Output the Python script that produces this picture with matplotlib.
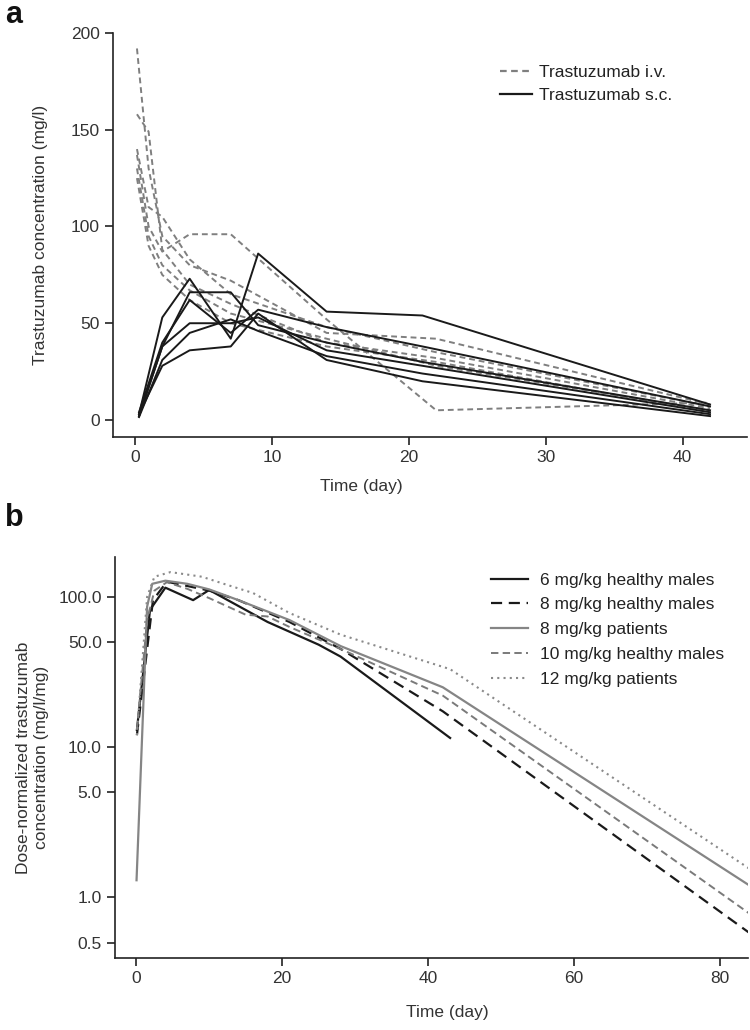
import matplotlib
matplotlib.use('Agg')
import matplotlib.pyplot as plt
import numpy as np
from matplotlib.lines import Line2D
from matplotlib.ticker import FixedLocator, NullLocator

plt.rcParams['font.family'] = ['Liberation Sans', 'DejaVu Sans']
plt.rcParams['text.color'] = '#222222'

# ---- panel a: individual profiles (mg/l)
t_iv = [0.15, 1, 2, 4, 7, 14, 22, 42]
iv_profiles = [
    [192, 130, 95, 80, 72, 45, 42, 8],
    [158, 149, 88, 70, 60, 40, 32, 6],
    [137, 100, 87, 96, 96, 52, 5, 9],
    [130, 95, 80, 67, 55, 42, 28, 5],
    [125, 90, 75, 62, 50, 38, 30, 4],
    [140, 110, 105, 83, 65, 48, 35, 7],
]
t_sc = [0.3, 2, 4, 7, 9, 14, 21, 42]
sc_profiles = [
    [3, 53, 73, 42, 86, 56, 54, 8],
    [2, 38, 66, 66, 49, 40, 30, 5],
    [4, 40, 62, 45, 57, 48, 38, 7],
    [2, 38, 50, 50, 53, 36, 28, 4],
    [1.5, 31, 45, 52, 46, 33, 24, 3],
    [3, 28, 36, 38, 55, 31, 20, 2],
]

# ---- panel b: dose-normalized mean profiles (mg/l/mg)
b_labels = ['6 mg/kg healthy males', '8 mg/kg healthy males', '8 mg/kg patients',
            '10 mg/kg healthy males', '12 mg/kg patients']
b_t = [
    [0.1, 1.9, 4, 7.8, 10, 18, 25, 28, 43],
    [0.1, 2.3, 4.2, 7, 10, 14, 21, 28, 42, 84],
    [0.05, 1.5, 2.2, 4, 7, 10, 14, 21, 28, 42, 84],
    [0.1, 1.5, 2.5, 4.2, 7, 10, 15, 18, 21, 28, 42, 84],
    [0.1, 1.5, 2.5, 4.7, 9, 12, 16, 21, 28, 43, 84],
]
b_c = [
    [13, 82, 115, 95, 111, 68, 48, 40, 11.5],
    [12, 95, 126, 118, 110, 95, 68, 45, 17.3, 0.58],
    [1.3, 86, 122, 128, 122, 112, 95, 70, 47, 25, 1.2],
    [13, 70, 110, 125, 113, 98, 76, 74, 63, 45, 22, 0.78],
    [12, 100, 136, 146, 136, 122, 106, 78, 56, 33, 1.55],
]
b_colors = ['#1a1a1a', '#1a1a1a', '#858585', '#7a7a7a', '#8a8a8a']
b_styles = ['-', (0, (5, 3)), '-', (0, (3.8, 2.2)), (0, (1, 2))]
b_widths = [1.6, 1.6, 1.6, 1.4, 1.5]

W, H = 750, 1030
fig = plt.figure(figsize=(W / 100, H / 100), dpi=100)


def box(l, t, r, b):
    return [l / W, 1 - b / H, (r - l) / W, (b - t) / H]


def style_axis(ax):
    for s in ['top', 'right']:
        ax.spines[s].set_visible(False)
    for s in ['left', 'bottom']:
        ax.spines[s].set_linewidth(1.2)
        ax.spines[s].set_color('#222222')
    ax.tick_params(direction='out', length=5.5, width=1.2, color='#222222',
                   labelsize=12.5, labelcolor='#333333', pad=4)


# panel a
ax = fig.add_axes(box(113, 33, 747, 437))
for c in iv_profiles:
    ax.plot(t_iv, c, color='#7f7f7f', lw=1.4, ls=(0, (3, 2)))
for c in sc_profiles:
    ax.plot(t_sc, c, color='#1a1a1a', lw=1.4)
ax.set_xlim(-1.6, 44.7)
ax.set_ylim(-8.8, 200)
ax.set_xticks([0, 10, 20, 30, 40])
ax.set_yticks([0, 50, 100, 150, 200])
style_axis(ax)
ax.set_ylabel('Trastuzumab concentration (mg/l)', fontsize=12.5, color='#333333', labelpad=16)
handles = [Line2D([], [], color='#7f7f7f', lw=1.6, ls=(0, (3, 2))),
           Line2D([], [], color='#1a1a1a', lw=1.6)]
ax.legend(handles, ['Trastuzumab i.v.', 'Trastuzumab s.c.'], loc='upper left',
          bbox_to_anchor=(0.585, 0.96), frameon=False, fontsize=12.5,
          handlelength=1.85, handletextpad=0.45, labelspacing=0.45)
fig.text(361 / W, 1 - 487 / H, 'Time (day)', ha='center', va='center', fontsize=12.5, color='#333333')
fig.text(5 / W, 1 - 15 / H, 'a', ha='left', va='center', fontsize=22, fontweight='bold', color='#111111')

# panel b
ax2 = fig.add_axes(box(115, 557, 748, 958))
for tt, cc, col, ls, lw, lab in zip(b_t, b_c, b_colors, b_styles, b_widths, b_labels):
    ax2.plot(tt, cc, color=col, ls=ls, lw=lw, label=lab)
ax2.set_yscale('log')
ax2.set_xlim(-2.9, 83.8)
ax2.set_ylim(0.395, 184)
ax2.set_xticks([0, 20, 40, 60, 80])
ax2.yaxis.set_major_locator(FixedLocator([0.5, 1, 5, 10, 50, 100]))
ax2.yaxis.set_minor_locator(NullLocator())
ax2.set_yticklabels(['0.5', '1.0', '5.0', '10.0', '50.0', '100.0'])
style_axis(ax2)
ax2.set_ylabel('Dose-normalized trastuzumab\nconcentration (mg/l/mg)', fontsize=12.5,
               color='#333333', labelpad=7, linespacing=1.2)
ax2.legend(loc='upper left', bbox_to_anchor=(0.57, 1.0), frameon=False, fontsize=12.5,
           handlelength=2.1, handletextpad=0.7, labelspacing=0.55)
fig.text(447 / W, 1 - 1012 / H, 'Time (day)', ha='center', va='center', fontsize=12.5, color='#333333')
fig.text(5 / W, 1 - 518 / H, 'b', ha='left', va='center', fontsize=22, fontweight='bold', color='#111111')

fig.savefig('out.png', dpi=100)
